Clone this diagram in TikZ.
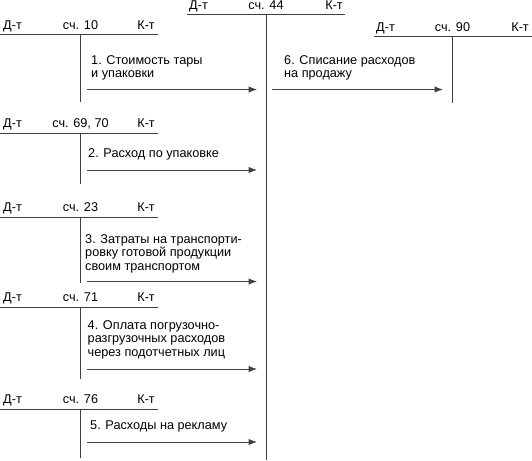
\documentclass[tikz,border=0pt]{standalone}
\usepackage{fontspec}
\setmainfont{Liberation Sans}
\usetikzlibrary{positioning, arrows.meta}

\begin{document}
\begin{tikzpicture}[x=1pt, y=-1pt, >={Latex[length=8.5pt, width=6.5pt]},
	font=\fontsize{12.7pt}{13.3pt}\selectfont,
	line/.style={draw=black!75, line width=1pt},
	side/.style={inner sep=0pt},
	entry/.style={anchor=base west, align=left, inner sep=0pt}]
	\useasboundingbox (0,0) rectangle (532,460);
	
	% Account 44 (centre)
	\coordinate (l44) at (187,15); \coordinate (r44) at (345,15);
	\coordinate (t44) at (266,15); \coordinate (b44) at (266,460);
	\node [side, anchor=base west] (d44) at (189,9.5) {Д-т};
	\node [side, anchor=base] (n44) at (266,9.5) {сч. 44};
	\node [side, anchor=base east] (k44) at (343,9.5) {К-т};
	\draw [line] (l44) -- (r44);
	\draw [line] (t44) -- (b44);
	
	% Account 90 (right)
	\coordinate (l90) at (374,37); \coordinate (r90) at (532,37);
	\coordinate (t90) at (452.5,37); \coordinate (b90) at (452.5,103);
	\node [side, anchor=base west] (d90) at (376,31.5) {Д-т};
	\node [side, anchor=base] (n90) at (452.5,31.5) {сч. 90};
	\node [side, anchor=base east] (k90) at (529,31.5) {К-т};
	\draw [line] (l90) -- (r90);
	\draw [line] (t90) -- (b90);
	
	% Account 10
	\coordinate (l10) at (0,35); \coordinate (r10) at (158,35);
	\coordinate (t10) at (80.5,35); \coordinate (b10) at (80.5,102);
	\node [side, anchor=base west] (d10) at (3,29.5) {Д-т};
	\node [side, anchor=base] (n10) at (80.5,29.5) {сч. 10};
	\node [side, anchor=base east] (k10) at (155,29.5) {К-т};
	\draw [line] (l10) -- (r10);
	\draw [line] (t10) -- (b10);
	
	% Account 69, 70
	\coordinate (l69) at (0,133); \coordinate (r69) at (158,133);
	\coordinate (t69) at (80.5,133); \coordinate (b69) at (80.5,184);
	\node [side, anchor=base west] (d69) at (3,127.5) {Д-т};
	\node [side, anchor=base] (n69) at (80.5,127.5) {сч. 69, 70};
	\node [side, anchor=base east] (k69) at (155,127.5) {К-т};
	\draw [line] (l69) -- (r69);
	\draw [line] (t69) -- (b69);
	
	% Account 23
	\coordinate (l23) at (0,217); \coordinate (r23) at (158,217);
	\coordinate (t23) at (80.5,217); \coordinate (b23) at (80.5,283);
	\node [side, anchor=base west] (d23) at (3,211.5) {Д-т};
	\node [side, anchor=base] (n23) at (80.5,211.5) {сч. 23};
	\node [side, anchor=base east] (k23) at (155,211.5) {К-т};
	\draw [line] (l23) -- (r23);
	\draw [line] (t23) -- (b23);
	
	% Account 71
	\coordinate (l71) at (0,307); \coordinate (r71) at (158,307);
	\coordinate (t71) at (80.5,307); \coordinate (b71) at (80.5,379);
	\node [side, anchor=base west] (d71) at (3,301.5) {Д-т};
	\node [side, anchor=base] (n71) at (80.5,301.5) {сч. 71};
	\node [side, anchor=base east] (k71) at (155,301.5) {К-т};
	\draw [line] (l71) -- (r71);
	\draw [line] (t71) -- (b71);
	
	% Account 76
	\coordinate (l76) at (0,409); \coordinate (r76) at (158,409);
	\coordinate (t76) at (80.5,409); \coordinate (b76) at (80.5,458);
	\node [side, anchor=base west] (d76) at (3,403.5) {Д-т};
	\node [side, anchor=base] (n76) at (80.5,403.5) {сч. 76};
	\node [side, anchor=base east] (k76) at (155,403.5) {К-т};
	\draw [line] (l76) -- (r76);
	\draw [line] (t76) -- (b76);
	
	% Entries (base = last line)
	\node [entry] (e1) at (91,77.7) {1. Стоимость тары\\и упаковки};
	\node [entry] (e2) at (88,157) {2. Расход по упаковке};
	\node [entry] (e3) at (85,270) {3. Затраты на транспорти-\\ровку готовой продукции\\своим транспортом};
	\node [entry] (e4) at (87.5,356) {4. Оплата погрузочно-\\разгрузочных расходов\\через подотчетных лиц};
	\node [entry] (e5) at (90,429) {5. Расходы на рекламу};
	\node [entry] (e6) at (284,77.7) {6. Списание расходов\\на продажу};
	
	% Arrows from the accounts to account 44 and from 44 to 90
	\coordinate (s1) at (87,89.5);  \coordinate (f1) at (257,89.5);
	\coordinate (s2) at (87,170);   \coordinate (f2) at (257,170);
	\coordinate (s3) at (87,281.5); \coordinate (f3) at (257,281.5);
	\coordinate (s4) at (87,369);   \coordinate (f4) at (257,369);
	\coordinate (s5) at (87,442);   \coordinate (f5) at (257,442);
	\coordinate (s6) at (272,89.5); \coordinate (f6) at (443,89.5);
	\draw [line, ->] (s1) -- (f1);
	\draw [line, ->] (s2) -- (f2);
	\draw [line, ->] (s3) -- (f3);
	\draw [line, ->] (s4) -- (f4);
	\draw [line, ->] (s5) -- (f5);
	\draw [line, ->] (s6) -- (f6);
\end{tikzpicture}
\end{document}
